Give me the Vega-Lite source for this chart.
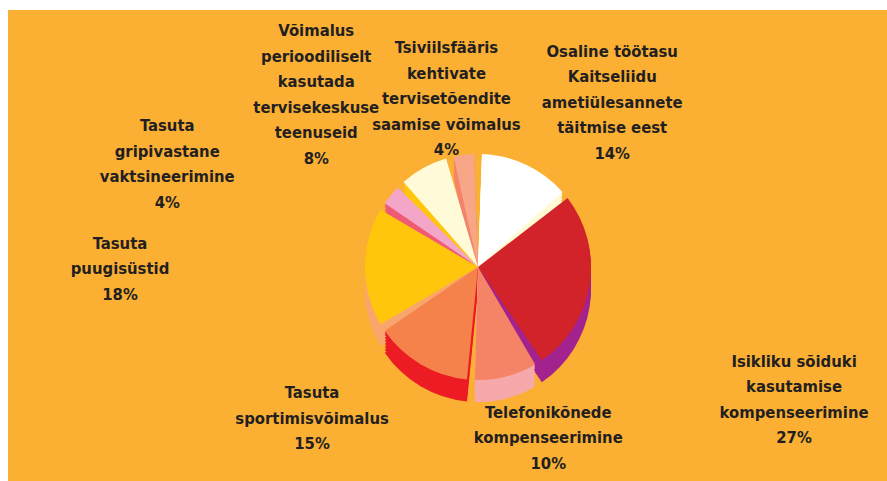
{
  "$schema": "https://vega.github.io/schema/vega-lite/v6.json",
  "width": 879,
  "height": 471,
  "autosize": {"type": "none"},
  "padding": {"left": 8, "top": 10, "right": 0, "bottom": 0},
  "background": "#FFFFFF",
  "view": {"fill": "#FBB034", "stroke": null},
  "config": {
    "view": {"fill": "#FBB034", "stroke": null},
    "text": {"font": "DejaVu Sans Condensed, sans-serif", "fontSize": 16.5, "fontWeight": "bold", "fill": "#231F20", "lineHeight": 25.5, "lineBreak": "\n", "align": "center", "baseline": "middle"}
  },
  "data": {
    "values": [
      {"i": 1, "key": "osaline", "label": "Osaline töötasu\nKaitseliidu\nametiülesannete\ntäitmise eest\n14%", "value": 14},
      {"i": 2, "key": "isikliku", "label": "Isikliku sõiduki\nkasutamise\nkompenseerimine\n27%", "value": 27},
      {"i": 3, "key": "telefoni", "label": "Telefonikõnede\nkompenseerimine\n10%", "value": 10},
      {"i": 4, "key": "sport", "label": "Tasuta\nsportimisvõimalus\n15%", "value": 15},
      {"i": 5, "key": "puugi", "label": "Tasuta\npuugisüstid\n18%", "value": 18},
      {"i": 6, "key": "gripi", "label": "Tasuta\ngripivastane\nvaktsineerimine\n4%", "value": 4},
      {"i": 7, "key": "voimalus", "label": "Võimalus\nperioodiliselt\nkasutada\ntervisekeskuse\nteenuseid\n8%", "value": 8},
      {"i": 8, "key": "tsiviil", "label": "Tsiviilsfääris\nkehtivate\ntervisetõendite\nsaamise võimalus\n4%", "value": 4}
    ]
  },
  "resolve": {"scale": {"color": "independent"}},
  "layer": [
    {
      "layer": [
        {"mark": {"type": "arc", "outerRadius": 113, "padAngle": 0.07, "xOffset": 30.5, "yOffset": 43.5}},
        {"mark": {"type": "arc", "outerRadius": 113, "padAngle": 0.07, "xOffset": 30.5, "yOffset": 40.5}},
        {"mark": {"type": "arc", "outerRadius": 113, "padAngle": 0.07, "xOffset": 30.5, "yOffset": 37.5}},
        {"mark": {"type": "arc", "outerRadius": 113, "padAngle": 0.07, "xOffset": 30.5, "yOffset": 34.5}},
        {"mark": {"type": "arc", "outerRadius": 113, "padAngle": 0.07, "xOffset": 30.5, "yOffset": 31.5}},
        {"mark": {"type": "arc", "outerRadius": 113, "padAngle": 0.07, "xOffset": 30.5, "yOffset": 28.5}},
        {"mark": {"type": "arc", "outerRadius": 113, "padAngle": 0.07, "xOffset": 30.5, "yOffset": 25.5}},
        {"mark": {"type": "arc", "outerRadius": 113, "padAngle": 0.07, "xOffset": 30.5, "yOffset": 23.5}}
      ],
      "encoding": {
        "theta": {"field": "value", "type": "quantitative", "stack": true},
        "order": {"field": "i", "type": "quantitative"},
        "color": {
          "field": "key", "type": "nominal", "legend": null,
          "scale": {
            "domain": ["osaline", "isikliku", "telefoni", "sport", "puugi", "gripi", "voimalus", "tsiviil"],
            "range": ["#FFFAD4", "#A3238E", "#F6A8AA", "#ED1C24", "#F9A66E", "#EF5B73", "#FFC60B", "#F3846A"]
          }
        }
      }
    },
    {
      "mark": {"type": "arc", "outerRadius": 113, "padAngle": 0.07, "xOffset": 30.5, "yOffset": 21.5},
      "encoding": {
        "theta": {"field": "value", "type": "quantitative", "stack": true},
        "order": {"field": "i", "type": "quantitative"},
        "color": {
          "field": "key", "type": "nominal", "legend": null,
          "scale": {
            "domain": ["osaline", "isikliku", "telefoni", "sport", "puugi", "gripi", "voimalus", "tsiviil"],
            "range": ["#FFFFFF", "#D2232A", "#F58466", "#F4824A", "#FFC60B", "#F3A6C8", "#FFFBD8", "#F8A688"]
          }
        }
      }
    },
    {
      "layer": [
        {"mark": {"type": "text", "radius": 186, "dx": 85.5, "dy": -25.5}, "encoding": {"text": {"condition": {"test": "datum.key == 'osaline'", "field": "label"}, "value": ""}}},
        {"mark": {"type": "text", "radius": 320, "dx": 30.5, "dy": 66}, "encoding": {"text": {"condition": {"test": "datum.key == 'isikliku'", "field": "label"}, "value": ""}}},
        {"mark": {"type": "text", "radius": 182, "dx": 55.5, "dy": -9}, "encoding": {"text": {"condition": {"test": "datum.key == 'telefoni'", "field": "label"}, "value": ""}}},
        {"mark": {"type": "text", "radius": 216, "dx": -25.5, "dy": -38}, "encoding": {"text": {"condition": {"test": "datum.key == 'sport'", "field": "label"}, "value": ""}}},
        {"mark": {"type": "text", "radius": 358, "dx": 30.5, "dy": -2}, "encoding": {"text": {"condition": {"test": "datum.key == 'puugi'", "field": "label"}, "value": ""}}},
        {"mark": {"type": "text", "radius": 306, "dx": -44.5, "dy": 76}, "encoding": {"text": {"condition": {"test": "datum.key == 'gripi'", "field": "label"}, "value": ""}}},
        {"mark": {"type": "text", "radius": 232, "dx": -19.5, "dy": -11}, "encoding": {"text": {"condition": {"test": "datum.key == 'voimalus'", "field": "label"}, "value": ""}}},
        {"mark": {"type": "text", "radius": 172, "dx": 20.5, "dy": -26.5}, "encoding": {"text": {"condition": {"test": "datum.key == 'tsiviil'", "field": "label"}, "value": ""}}}
      ],
      "encoding": {
        "theta": {"field": "value", "type": "quantitative", "stack": true},
        "order": {"field": "i", "type": "quantitative"}
      }
    }
  ]
}
